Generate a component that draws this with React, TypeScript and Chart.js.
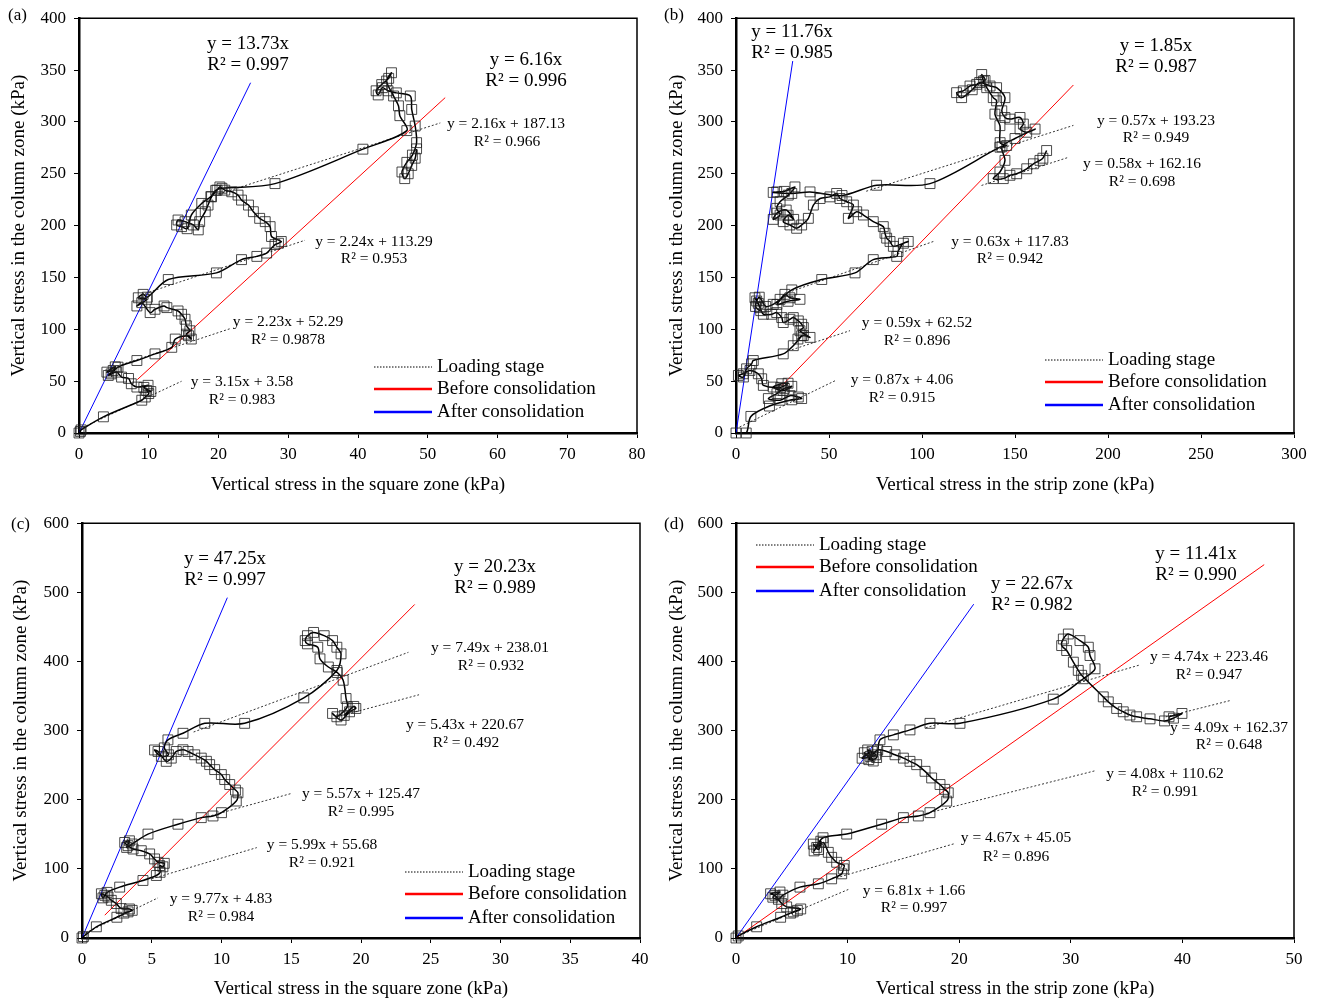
import React, { useEffect, useRef } from "react";
import { Chart, registerables } from "chart.js";
Chart.register(...registerables);

const FONT = "'Liberation Serif', 'Times New Roman', serif";

type Pt = [number, number];
type Trend = { m: number; b: number; from: number; to: number };
type Label = [string, number, number, number];

const BIG = 19;
const SMALL = 15.5;

// ---------- Panel (a): square zone vs column zone ----------
const pathA: Pt[] = [
  [0, 0], [0.2, 1.5], [0.3, 3], [3.5, 15.6], [9.0, 31.6], [9.5, 34.7], [10.0, 38], [9.7, 41], [10.3, 40], [9.3, 44], [9.9, 46],
  [8.3, 44.3], [7.5, 47.5], [7.1, 52.6], [6.1, 53.9], [5.4, 58.7], [4.2, 55.5], [4.9, 60.3], [4.0, 58.7], [5.2, 63.8], [4.6, 57],
  [5.6, 63.5], [8.3, 69.9], [10.9, 76.3], [13.3, 82.6], [13.8, 90.6], [15.7, 93.8], [16.1, 90.6], [15.4, 95.3], [15.9, 98.6],
  [15.4, 103.4], [15.2, 109.7], [14.7, 114.5], [14.2, 117.7], [12.6, 120.9], [12.2, 122.5], [10.9, 119.3], [10.2, 116.1],
  [9.0, 125.7], [8.3, 122.5], [9.7, 128.9], [8.5, 130.4], [9.2, 133.7], [9.8, 131], [12.8, 148], [19.7, 154.4], [23.3, 167.2],
  [25.5, 170.3], [26.9, 173.5], [28.1, 181.7], [28.6, 183], [29.0, 184.7], [27.6, 189.5], [27.4, 199], [26.7, 203.8], [25.9, 207],
  [25.0, 213.4], [24.3, 219.8], [23.3, 224.6], [22.8, 229.4], [21.9, 232.6], [20.9, 234.2], [20.2, 237.3], [19.8, 234.2],
  [19.0, 227.7], [18.5, 219.8], [18.1, 213.4], [17.3, 203.8], [17.1, 195.9], [16.4, 200.6], [15.2, 203.8], [14.2, 205.4],
  [14.0, 200.6], [14.7, 199], [15.5, 197], [16.1, 210.2], [17.6, 221.4], [18.9, 228], [19.6, 234], [20.5, 236], [28.1, 240.5],
  [40.7, 273.7], [47.0, 291.6], [46.0, 306], [45.8, 315.5], [45.1, 325], [44.1, 339.4], [44.8, 347.4], [44.4, 342], [43.4, 336],
  [42.6, 330], [42.9, 326], [43.5, 333], [44.3, 330], [45.5, 328], [47.5, 325], [47.7, 312], [48.2, 296], [48.4, 280], [47.8, 268],
  [47.0, 261], [46.3, 251.7], [46.7, 245.3], [47.2, 250], [47.7, 258], [48.2, 265], [48.4, 274],
];
const trendA: Trend[] = [
  { m: 3.15, b: 3.58, from: 0, to: 14.7 },
  { m: 2.23, b: 52.29, from: 5, to: 21.6 },
  { m: 2.24, b: 113.29, from: 9.5, to: 32.4 },
  { m: 2.16, b: 187.13, from: 20, to: 51.8 },
];
const beforeA: Trend = { m: 6.16, b: 0, from: 8.36, to: 52.5 };
const afterA: Trend = { m: 13.73, b: 0, from: 0, to: 24.6 };
const labelsA: Label[] = [
  ["y = 13.73x", 248, 44, BIG], ["R² = 0.997", 248, 65, BIG],
  ["y = 6.16x", 526, 60, BIG], ["R² = 0.996", 526, 81, BIG],
  ["y = 2.16x + 187.13", 506, 124, SMALL], ["R² = 0.966", 507, 142, SMALL],
  ["y = 2.24x + 113.29", 374, 242, SMALL], ["R² = 0.953", 374, 259, SMALL],
  ["y = 2.23x + 52.29", 288, 322, SMALL], ["R² = 0.9878", 288, 340, SMALL],
  ["y = 3.15x + 3.58", 242, 382, SMALL], ["R² = 0.983", 242, 400, SMALL],
];

// ---------- Panel (b): strip zone vs column zone ----------
const pathB: Pt[] = [
  [0, 0], [5.5, 0], [8, 16], [18, 26], [30, 32], [35.3, 33.2], [33.5, 34.7], [29, 36], [23.7, 31.6], [17.4, 33.2], [22, 38],
  [26, 43], [30, 45], [25.4, 41], [20, 44.3], [24.6, 47.5], [28, 48], [24, 44], [14.7, 45.9], [13.8, 52.3], [12, 57.1],
  [7.5, 60.3], [3.9, 57.1], [1.3, 55.5], [4, 54], [5.7, 61.9], [8.4, 66.7], [9.3, 69.9], [25.4, 76.3], [30.8, 84.2],
  [35.3, 93.8], [33.3, 90.6], [36.2, 94], [39.8, 92.2], [34.4, 98.6], [36.2, 101.7], [35.3, 104.9], [33.5, 108.1],
  [30.8, 111.3], [29, 109.7], [25.4, 106.5], [24.6, 111.3], [21.9, 116.1], [19.2, 114.5], [14.7, 114.5], [12.9, 120.9],
  [11.1, 127.3], [10.2, 130.4], [12, 125], [13.3, 118], [10.5, 122], [12.5, 131], [16, 122], [20, 124.1], [23.7, 128.9],
  [26.3, 133.7], [29, 130.4], [34.4, 128.9], [28, 127], [22, 124], [30, 138], [46.1, 148], [64, 154.4], [73.8, 167.2],
  [86.4, 170.3], [87.1, 175], [90, 183], [92.6, 184.7], [84.6, 180], [82.8, 184.7], [81, 187.9], [80.1, 192.6], [79.2, 199],
  [73.8, 203.8], [68.5, 210.2], [64.9, 213.4], [60.4, 207], [63.1, 219.8], [59.5, 223], [55.9, 226.1], [54.1, 231],
  [50.5, 227.7], [45.2, 226.1], [41.6, 219.8], [38.9, 207], [35.3, 200.6], [32.6, 197.4], [29, 200.6], [25.4, 203.8],
  [28, 210], [31, 206], [27, 215], [22, 212], [20, 206], [23.7, 210.2], [21.9, 216.6], [23.7, 223], [28.1, 229.4],
  [31.7, 237.3], [26, 233], [21.9, 232.5], [20, 232], [30, 231], [39.8, 232.5], [57, 229], [75.6, 238.9], [104.3, 240.5],
  [141.9, 275.6], [145.5, 277.2], [142, 280], [141.9, 296.4], [139.2, 307.5], [140.1, 320.3], [138.3, 323.4], [134.8, 333],
  [133, 339.4], [132.1, 345.7], [133.9, 340], [129.4, 336.2], [125.8, 334.6], [122.2, 329.9], [118.6, 328.2], [121.3, 323.4],
  [127, 331], [131, 338], [136.6, 334.6], [140.1, 333], [144.6, 323.4], [142.9, 310.7], [144.6, 304.3], [147.3, 302.7],
  [152.7, 304.3], [154.5, 297.9], [152.7, 293.1], [156.3, 290], [160.8, 293.1], [150, 284], [143, 276], [144.6, 262.9],
  [141.9, 251.7], [138.3, 245.3], [143.7, 245.3], [147.3, 248.5], [150.9, 250], [156.3, 254.8], [159.9, 259.6],
  [163.4, 262.9], [165, 265], [167, 272.4],
];
const trendB: Trend[] = [
  { m: 0.87, b: 4.06, from: 0, to: 54 },
  { m: 0.59, b: 62.52, from: 30, to: 61.3 },
  { m: 0.63, b: 117.83, from: 30, to: 107 },
  { m: 0.57, b: 193.23, from: 70, to: 181.4 },
  { m: 0.58, b: 162.16, from: 132, to: 178.6 },
];
const beforeB: Trend = { m: 1.85, b: 0, from: 24.6, to: 181.4 };
const afterB: Trend = { m: 11.76, b: 0, from: 0, to: 30.5 };
const labelsB: Label[] = [
  ["y = 11.76x", 792, 32, BIG], ["R² = 0.985", 792, 53, BIG],
  ["y = 1.85x", 1156, 46, BIG], ["R² = 0.987", 1156, 67, BIG],
  ["y = 0.57x + 193.23", 1156, 121, SMALL], ["R² = 0.949", 1156, 138, SMALL],
  ["y = 0.58x + 162.16", 1142, 164, SMALL], ["R² = 0.698", 1142, 182, SMALL],
  ["y = 0.63x + 117.83", 1010, 242, SMALL], ["R² = 0.942", 1010, 259, SMALL],
  ["y = 0.59x + 62.52", 917, 323, SMALL], ["R² = 0.896", 917, 341, SMALL],
  ["y = 0.87x + 4.06", 902, 380, SMALL], ["R² = 0.915", 902, 398, SMALL],
];

// ---------- Panel (c): square zone vs column zone ----------
const pathC: Pt[] = [
  [0, 0], [0.1, 2], [1.03, 16.2], [2.5, 30], [3.3, 37.8], [3.0, 36], [3.6, 40], [3.4, 42], [2.8, 42.6], [2.46, 49.8],
  [2.1, 54.5], [1.87, 59.3], [1.63, 61.7], [1.39, 64], [1.5, 58], [1.8, 66], [2.7, 73.6], [4.37, 83.2], [5.33, 90.4],
  [5.6, 95], [5.57, 104.8], [5.8, 103], [5.9, 108], [5.45, 109.5], [5.2, 114.4], [4.85, 121.6], [4.25, 126.3], [3.66, 128.7],
  [3.3, 133.5], [3.06, 138.2], [3.4, 140.6], [3.2, 131], [3.6, 136], [4.73, 150.3], [6.88, 164.6], [8.55, 174.1],
  [9.39, 176.5], [10.0, 181.3], [11.06, 198.1], [11.18, 210], [11.0, 214], [10.59, 222], [10.23, 229.2], [9.99, 236.4],
  [9.51, 243.6], [9.15, 250.8], [8.92, 255.6], [8.55, 260.2], [8.08, 265], [7.6, 269.8], [7.24, 272.3], [6.76, 269.8],
  [6.4, 260.2], [6.04, 255.5], [5.45, 269.8], [5.2, 272], [5.69, 262.7], [6.2, 265], [5.9, 275], [6.16, 286.6],
  [7.24, 296.1], [8.8, 310.5], [11.66, 310.5], [15.9, 347.3], [18.27, 387], [18.57, 411], [18.27, 420.6], [17.96, 430.2],
  [17.36, 437.3], [16.6, 442], [16.16, 437.3], [16.0, 430.2], [16.16, 425.5], [16.9, 420.6], [17.06, 403.8], [17.66, 392],
  [18.3, 384], [18.72, 372.8], [18.93, 346.4], [19.02, 334.4], [18.27, 320], [17.96, 324.8], [18.57, 315.3], [19.18, 327.2],
  [19.63, 332], [19.48, 335], [18.8, 322],
];
const trendC: Trend[] = [
  { m: 9.77, b: 4.83, from: 0, to: 5.45 },
  { m: 5.99, b: 55.68, from: 5, to: 12.53 },
  { m: 5.57, b: 125.47, from: 9, to: 14.95 },
  { m: 7.49, b: 238.01, from: 8, to: 23.4 },
  { m: 5.43, b: 220.67, from: 18.5, to: 24.16 },
];
const beforeC: Trend = { m: 20.23, b: 0, from: 1.63, to: 23.85 };
const afterC: Trend = { m: 47.25, b: 0, from: 0, to: 10.42 };
const labelsC: Label[] = [
  ["y = 47.25x", 225, 559, BIG], ["R² = 0.997", 225, 580, BIG],
  ["y = 20.23x", 495, 567, BIG], ["R² = 0.989", 495, 588, BIG],
  ["y = 7.49x + 238.01", 490, 648, SMALL], ["R² = 0.932", 491, 666, SMALL],
  ["y = 5.43x + 220.67", 465, 725, SMALL], ["R² = 0.492", 466, 743, SMALL],
  ["y = 5.57x + 125.47", 361, 794, SMALL], ["R² = 0.995", 361, 812, SMALL],
  ["y = 5.99x + 55.68", 322, 845, SMALL], ["R² = 0.921", 322, 863, SMALL],
  ["y = 9.77x + 4.83", 221, 899, SMALL], ["R² = 0.984", 221, 917, SMALL],
];

// ---------- Panel (d): strip zone vs column zone ----------
const pathD: Pt[] = [
  [0, 0], [0.2, 3], [1.85, 16.2], [4, 30], [5.13, 37.8], [5.5, 40], [4.9, 36], [5.8, 42], [4.54, 45], [4.1, 49.8],
  [3.49, 61.7], [3.1, 64], [3.94, 66.5], [3.3, 59], [3.8, 56], [4.2, 62], [5.73, 73.6], [7.38, 78.4], [8.57, 85.6],
  [9.47, 92.8], [9.62, 100], [9.7, 105], [9.02, 109.5], [8.57, 116.7], [8.27, 123.9], [7.82, 138.2], [7.23, 131],
  [6.93, 135.8], [7.4, 128], [7.6, 140], [7.0, 126], [7.8, 145], [9.92, 150.3], [13.05, 164.6], [15.0, 174.1],
  [16.34, 176.5], [17.38, 181.3], [18.88, 198], [19.02, 210], [18.7, 215], [18.28, 222], [17.53, 231.5], [16.94, 241.1],
  [16.19, 250.7], [15.59, 255.5], [15.0, 260.2], [14.25, 265], [13.5, 269.8], [12.7, 272], [12.01, 262.7], [11.5, 268],
  [12.3, 256], [11.8, 272], [12.5, 265], [11.3, 260], [12.2, 270], [11.9, 258], [12.6, 261], [12.9, 286.6], [14.1, 293.8],
  [15.59, 301], [17.38, 310.5], [20.07, 310.5], [28.43, 345.5], [31.12, 375], [32.17, 389.4], [31.72, 408.6],
  [31.57, 420.6], [30.82, 430.2], [29.78, 439.7], [29.33, 432.5], [29.18, 423], [29.63, 415.8], [30.23, 399],
  [30.67, 387.1], [30.97, 380], [32.91, 348.8], [33.36, 341.6], [34.11, 332], [34.7, 327.2], [35.3, 322.5], [35.9, 320],
  [37.1, 317], [38.4, 314], [39.2, 318], [39.96, 324.8], [38.8, 320],
];
const trendD: Trend[] = [
  { m: 6.81, b: 1.66, from: 0, to: 10.06 },
  { m: 4.67, b: 45.05, from: 9, to: 19.6 },
  { m: 4.08, b: 110.62, from: 17, to: 32.24 },
  { m: 4.74, b: 223.46, from: 17, to: 36.2 },
  { m: 4.09, b: 162.37, from: 38.5, to: 44.3 },
];
const beforeD: Trend = { m: 11.41, b: 0, from: 0, to: 47.33 };
const afterD: Trend = { m: 22.67, b: 0, from: 0, to: 21.3 };
const labelsD: Label[] = [
  ["y = 22.67x", 1032, 584, BIG], ["R² = 0.982", 1032, 605, BIG],
  ["y = 11.41x", 1196, 554, BIG], ["R² = 0.990", 1196, 575, BIG],
  ["y = 4.74x + 223.46", 1209, 657, SMALL], ["R² = 0.947", 1209, 675, SMALL],
  ["y = 4.09x + 162.37", 1229, 728, SMALL], ["R² = 0.648", 1229, 745, SMALL],
  ["y = 4.08x + 110.62", 1165, 774, SMALL], ["R² = 0.991", 1165, 792, SMALL],
  ["y = 4.67x + 45.05", 1016, 838, SMALL], ["R² = 0.896", 1016, 857, SMALL],
  ["y = 6.81x + 1.66", 914, 891, SMALL], ["R² = 0.997", 914, 908, SMALL],
];

const legendItems = ["Loading stage", "Before consolidation", "After consolidation"];

type PanelCfg = {
  tag: string; tagX: number; tagY: number;
  left: number; top: number; width: number; height: number;
  yAxisW: number; xAxisH: number; padRight: number; padTop: number;
  xMax: number; xStep: number; yMax: number; yStep: number;
  xTitle: string; xTitlePad: number; yTitlePad: number;
  path: Pt[]; trends: Trend[]; before: Trend; after: Trend; labels: Label[];
  legX1: number; legX2: number; legTextX: number; legY: number[];
};

const panels: PanelCfg[] = [
  {
    tag: "(a)", tagX: 8, tagY: 16, left: 0, top: 0, width: 660, height: 500,
    yAxisW: 79, xAxisH: 67, padRight: 23, padTop: 15, xMax: 80, xStep: 10, yMax: 400, yStep: 50,
    xTitle: "Vertical stress in the square zone (kPa)", xTitlePad: 4, yTitlePad: 8,
    path: pathA, trends: trendA, before: beforeA, after: afterA, labels: labelsA,
    legX1: 374, legX2: 432, legTextX: 437, legY: [367, 389, 412],
  },
  {
    tag: "(b)", tagX: 664, tagY: 16, left: 660, top: 0, width: 659, height: 500,
    yAxisW: 76, xAxisH: 67, padRight: 25, padTop: 15, xMax: 300, xStep: 50, yMax: 400, yStep: 50,
    xTitle: "Vertical stress in the strip zone (kPa)", xTitlePad: 4, yTitlePad: 6,
    path: pathB, trends: trendB, before: beforeB, after: afterB, labels: labelsB,
    legX1: 1045, legX2: 1103, legTextX: 1108, legY: [360, 382, 405],
  },
  {
    tag: "(c)", tagX: 11, tagY: 525, left: 0, top: 505, width: 660, height: 495,
    yAxisW: 82, xAxisH: 62, padRight: 20, padTop: 15, xMax: 40, xStep: 5, yMax: 600, yStep: 100,
    xTitle: "Vertical stress in the square zone (kPa)", xTitlePad: 0, yTitlePad: 10,
    path: pathC, trends: trendC, before: beforeC, after: afterC, labels: labelsC,
    legX1: 405, legX2: 463, legTextX: 468, legY: [872, 894, 918],
  },
  {
    tag: "(d)", tagX: 664, tagY: 525, left: 660, top: 505, width: 659, height: 495,
    yAxisW: 76, xAxisH: 62, padRight: 25, padTop: 15, xMax: 50, xStep: 10, yMax: 600, yStep: 100,
    xTitle: "Vertical stress in the strip zone (kPa)", xTitlePad: 0, yTitlePad: 6,
    path: pathD, trends: trendD, before: beforeD, after: afterD, labels: labelsD,
    legX1: 756, legX2: 814, legTextX: 819, legY: [545, 567, 591],
  },
];

const seg = (t: Trend) => [
  { x: t.from, y: t.m * t.from + t.b },
  { x: t.to, y: t.m * t.to + t.b },
];

function Panel({ cfg }: { cfg: PanelCfg }) {
  const ref = useRef<HTMLCanvasElement>(null);
  useEffect(() => {
    const canvas = ref.current;
    if (!canvas) return;
    const overlay = {
      id: "overlay",
      afterDraw(chart: any) {
        const { ctx, chartArea: a } = chart;
        ctx.save();
        ctx.strokeStyle = "#000";
        ctx.lineWidth = 1.5;
        ctx.beginPath();
        ctx.moveTo(a.left, a.top);
        ctx.lineTo(a.right, a.top);
        ctx.lineTo(a.right, a.bottom);
        ctx.stroke();
        ctx.fillStyle = "#000";
        ctx.textAlign = "center";
        ctx.textBaseline = "middle";
        for (const [t, x, y, s] of cfg.labels) {
          ctx.font = `${s}px ${FONT}`;
          ctx.fillText(t, x - cfg.left, y - cfg.top);
        }
        const styles = [
          { c: "#000", w: 1, d: [1.5, 1.5] },
          { c: "#ff0000", w: 2.5, d: [] as number[] },
          { c: "#0000ff", w: 2.5, d: [] as number[] },
        ];
        ctx.textAlign = "left";
        ctx.font = `${BIG}px ${FONT}`;
        legendItems.forEach((txt, i) => {
          const y = cfg.legY[i] - cfg.top;
          ctx.strokeStyle = styles[i].c;
          ctx.lineWidth = styles[i].w;
          ctx.setLineDash(styles[i].d);
          ctx.beginPath();
          ctx.moveTo(cfg.legX1 - cfg.left, y);
          ctx.lineTo(cfg.legX2 - cfg.left, y);
          ctx.stroke();
          ctx.setLineDash([]);
          ctx.fillStyle = "#000";
          ctx.fillText(txt, cfg.legTextX - cfg.left, y);
        });
        ctx.font = `17px ${FONT}`;
        ctx.fillText(cfg.tag, cfg.tagX - cfg.left, cfg.tagY - cfg.top);
        ctx.restore();
      },
    };
    const tickFont = { family: FONT, size: 17 };
    const titleFont = { family: FONT, size: 19 };
    const chart = new Chart(canvas, {
      type: "scatter",
      data: {
        datasets: [
          {
            data: cfg.path.map(([x, y]) => ({ x, y })),
            showLine: true,
            tension: 0.3,
            borderColor: "#000",
            borderWidth: 1.5,
            pointStyle: "rect",
            pointRadius: 7,
            pointBorderWidth: 1,
            pointBorderColor: "rgba(30,30,30,0.8)",
            pointBackgroundColor: "rgba(0,0,0,0)",
            clip: false,
          } as any,
          {
            data: seg(cfg.before), showLine: true, borderColor: "#ff0000", borderWidth: 1, pointRadius: 0,
          } as any,
          {
            data: seg(cfg.after), showLine: true, borderColor: "#0000ff", borderWidth: 1, pointRadius: 0,
          } as any,
          ...cfg.trends.map((t) => ({
            data: seg(t), showLine: true, borderColor: "#333", borderWidth: 1, borderDash: [2, 2], pointRadius: 0,
          }) as any),
        ],
      },
      options: {
        animation: false,
        responsive: false,
        devicePixelRatio: 1,
        layout: { padding: { left: 0, right: cfg.padRight, top: cfg.padTop, bottom: 0 } },
        plugins: { legend: { display: false }, tooltip: { enabled: false } },
        scales: {
          x: {
            type: "linear", min: 0, max: cfg.xMax,
            afterFit: (s: any) => { s.height = cfg.xAxisH; },
            ticks: { stepSize: cfg.xStep, font: tickFont, color: "#000", padding: 6, maxRotation: 0, autoSkip: false },
            grid: { display: true, drawOnChartArea: false, drawTicks: true, tickLength: 5, color: "#000" },
            border: { display: true, color: "#000", width: 2.5 },
            title: { display: true, text: cfg.xTitle, font: titleFont, color: "#000", padding: { top: 0, bottom: cfg.xTitlePad } },
          },
          y: {
            type: "linear", min: 0, max: cfg.yMax,
            afterFit: (s: any) => { s.width = cfg.yAxisW; },
            ticks: { stepSize: cfg.yStep, font: tickFont, color: "#000", padding: 8, autoSkip: false },
            grid: { display: true, drawOnChartArea: false, drawTicks: true, tickLength: 5, color: "#000" },
            border: { display: true, color: "#000", width: 2.5 },
            title: { display: true, text: "Vertical stress in the column zone (kPa)", font: titleFont, color: "#000", padding: { top: cfg.yTitlePad, bottom: 0 } },
          },
        },
      } as any,
      plugins: [overlay],
    });
    return () => chart.destroy();
  }, [cfg]);
  return (
    <div style={{ position: "absolute", left: cfg.left, top: cfg.top, width: cfg.width, height: cfg.height }}>
      <canvas ref={ref} width={cfg.width} height={cfg.height} style={{ width: cfg.width, height: cfg.height, display: "block" }} />
    </div>
  );
}

export default function App() {
  return (
    <div style={{ position: "absolute", left: 0, top: 0, width: 1319, height: 1000, background: "#fff" }}>
      {panels.map((p) => (
        <Panel key={p.tag} cfg={p} />
      ))}
    </div>
  );
}
